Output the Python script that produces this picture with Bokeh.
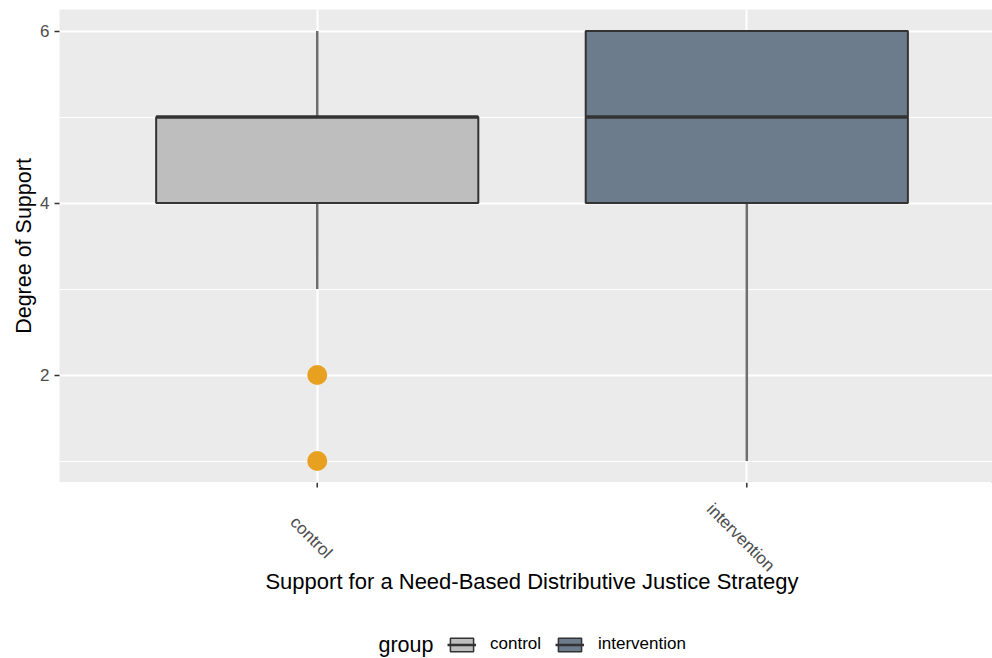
import math
from bokeh.plotting import figure
from bokeh.layouts import column
from bokeh.models import (Range1d, FixedTicker, Label, Legend, LegendItem,
                          ColumnDataSource, Grid)
from bokeh.embed import file_html
from bokeh.resources import INLINE

# ---------------- data ----------------
groups = ["control", "intervention"]
lower_whisker = [3, 1]
q1 = [4, 4]
median = [5, 5]
q3 = [5, 6]
upper_whisker = [6, 6]
outlier_group = ["control", "control"]
outlier_value = [2, 1]
fill_colors = ["#BEBEBE", "#6C7C8C"]
y_ticks = [2, 4, 6]
y_minor = [1, 3, 5]
x_title = "Support for a Need-Based Distributive Justice Strategy"
y_title = "Degree of Support"
legend_title = "group"

# ---------------- layout ----------------
W = 992
H_TOP = 482          # main plot (panel bottom at y = 482)
H_BOT = 176          # area below the panel (tick labels, x title, legend)
B_LEFT, B_TOP = 59, 9
Y_LO, Y_HI = 0.75, 6.25
X_LO, X_HI = 0.4, 2.572
FONT = "Liberation Sans"

pos = [i + 1 for i in range(len(groups))]
box_w = 0.75

src = ColumnDataSource(dict(
    x=pos, lower=lower_whisker, q1=q1, med=median, q3=q3, upper=upper_whisker,
    left=[v - box_w / 2 for v in pos], right=[v + box_w / 2 for v in pos],
    fill=fill_colors, name=groups,
))

x_range = Range1d(X_LO, X_HI)

p = figure(width=W, height=H_TOP, x_range=x_range, y_range=Range1d(Y_LO, Y_HI),
           output_backend="svg", toolbar_location=None, x_axis_location=None,
           min_border_left=B_LEFT, min_border_right=0, min_border_top=B_TOP,
           min_border_bottom=0,
           background_fill_color="#EBEBEB", border_fill_color="white",
           outline_line_color=None)

# grids
if len(p.xgrid) == 0:
    p.add_layout(Grid(dimension=0, ticker=FixedTicker(ticks=pos)))
else:
    p.xgrid.ticker = FixedTicker(ticks=pos)
p.ygrid.ticker = FixedTicker(ticks=y_ticks, minor_ticks=y_minor)
for g in p.grid:
    g.grid_line_color = "white"
    g.grid_line_width = 2
p.ygrid.minor_grid_line_color = "white"
p.ygrid.minor_grid_line_width = 1

# y axis
ax = p.yaxis
ax.axis_line_color = None
ax.major_tick_line_color = "#333333"
ax.major_tick_line_width = 1.5
ax.major_tick_out = 5
ax.major_tick_in = 0
ax.minor_tick_line_color = None
ax.major_label_text_font = FONT
ax.major_label_text_font_size = "17px"
ax.major_label_text_color = "#4D4D4D"
ax.axis_label_text_font = FONT
ax.axis_label_text_font_size = "21.5px"
ax.axis_label_text_font_style = "normal"
ax.axis_label_text_color = "black"
ax.ticker = FixedTicker(ticks=y_ticks, minor_ticks=[])
ax.major_label_standoff = 5
ax.axis_label = y_title
ax.axis_label_standoff = 1

# glyphs
p.segment(x0="x", y0="q3", x1="x", y1="upper", source=src,
          line_color="#6E6E6E", line_width=2.5)
p.segment(x0="x", y0="q1", x1="x", y1="lower", source=src,
          line_color="#6E6E6E", line_width=2.5)
p.vbar(x="x", width=box_w, bottom="q1", top="q3", source=src,
       fill_color="fill", line_color="#333333", line_width=2)
p.segment(x0="left", y0="med", x1="right", y1="med", source=src,
          line_color="#333333", line_width=3.5)
p.scatter(x=[pos[groups.index(g)] for g in outlier_group], y=outlier_value,
          size=20, fill_color="#E8A020", line_color=None)

# ---------------- lower strip: x ticks, tick labels, x title, legend ----------------
q = figure(width=W, height=H_BOT, x_range=x_range, y_range=Range1d(H_BOT, 0),
           output_backend="svg", toolbar_location=None,
           x_axis_location=None, y_axis_location=None,
           min_border_left=B_LEFT, min_border_right=0, min_border_top=0,
           min_border_bottom=0, background_fill_color="white",
           border_fill_color="white", outline_line_color=None)
q.grid.visible = False

# tick marks at category positions
q.segment(x0=pos, y0=[0] * len(pos), x1=pos, y1=[5] * len(pos),
          line_color="#333333", line_width=1.5)

# rotated category labels
for i, g in enumerate(groups):
    q.add_layout(Label(x=pos[i], y=55, x_offset=-6, text=g,
                       angle=-math.pi / 4, text_align="center", text_baseline="middle",
                       text_font=FONT, text_font_size="17px", text_color="#4D4D4D"))

# x axis title (centred on the panel)
q.add_layout(Label(x=(pos[0] + pos[-1]) / 2, y=99, text=x_title,
                   text_align="center", text_baseline="middle", text_font=FONT,
                   text_font_size="22px", text_color="black"))

# legend: proxy renderers placed far outside the visible strip, styled like the boxes
off = X_HI + 50
items = []
for i, g in enumerate(groups):
    rb = q.vbar(x=[off], width=box_w, bottom=[-600], top=[-500],
                fill_color=fill_colors[i], line_color="#333333", line_width=1.5)
    rm = q.segment(x0=[off], y0=[-550], x1=[off], y1=[-550],
                   line_color="#333333", line_width=2.5)
    items.append(LegendItem(label=g, renderers=[rb, rm]))
legend = Legend(items=items, orientation="horizontal", location=(388, 4),
                glyph_width=29, glyph_height=17, label_standoff=14, spacing=14,
                padding=0, margin=0, border_line_color=None, background_fill_alpha=0,
                label_text_font=FONT, label_text_font_size="17px",
                label_text_color="black", label_height=17)
q.add_layout(legend)
q.add_layout(Label(x=319, y=162, x_units="screen", text=legend_title,
                   text_align="left", text_baseline="middle", text_font=FONT,
                   text_font_size="21.5px", text_color="black"))

layout = column(p, q, spacing=0)
open("out.html", "w").write(file_html(layout, INLINE))
